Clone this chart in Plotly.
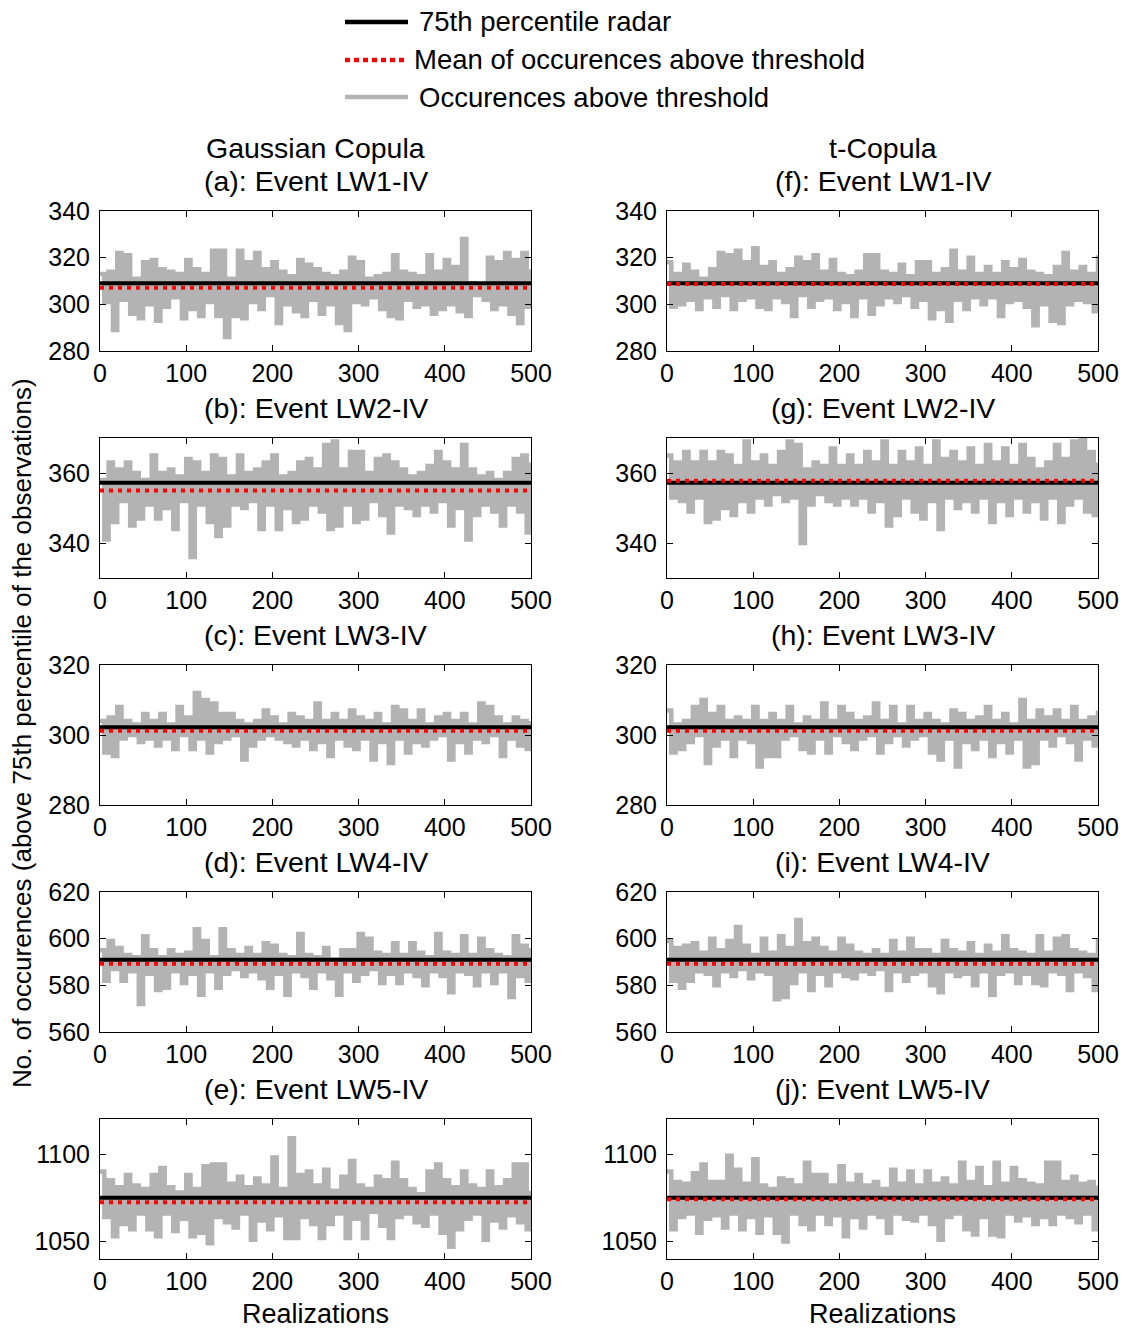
import plotly.graph_objects as go

# ---------------- DATA ----------------
# Realization index of the series values (every 5th realization is read from the picture)
realizations = list(range(0, 501, 5))

# Gaussian copula: values at realizations 0,10,...,500 (high side) and 5,15,...,495 (low side)
gauss_LW1_hi = [313, 314, 322, 321, 311, 318, 319, 315, 314, 313, 319, 315, 313, 323, 323, 311, 323, 318, 322, 315,
                318, 314, 312, 319, 317, 315, 313, 312, 314, 320, 318, 311, 312, 313, 321, 314, 313, 312, 321, 314,
                319, 316, 328, 309, 308, 320, 318, 322, 319, 322, 315]
gauss_LW1_lo = [301, 289, 302, 296, 294, 300, 293, 299, 303, 294, 298, 295, 301, 295, 286, 295, 294, 301, 298, 304,
                292, 300, 297, 295, 302, 296, 300, 292, 289, 301, 300, 303, 298, 295, 294, 302, 299, 300, 296, 298,
                300, 297, 295, 304, 302, 298, 300, 296, 292, 299]
gauss_LW2_hi = [358, 363, 361, 363, 360, 358, 365, 360, 361, 359, 364, 363, 360, 365, 364, 359, 365, 360, 361, 363,
                365, 359, 360, 363, 364, 361, 368, 369, 361, 366, 366, 360, 364, 365, 363, 361, 359, 360, 362, 366,
                363, 361, 368, 361, 359, 360, 358, 360, 364, 365, 363]
gauss_LW2_lo = [341, 346, 352, 345, 347, 351, 347, 350, 344, 352, 336, 351, 346, 342, 345, 351, 350, 352, 344, 351,
                344, 350, 346, 347, 351, 349, 344, 345, 351, 346, 347, 352, 348, 343, 351, 350, 348, 351, 349, 352,
                345, 350, 341, 348, 351, 349, 345, 351, 349, 343]
gauss_LW3_hi = [304, 305, 308, 304, 303, 306, 304, 306, 303, 308, 305, 312, 310, 309, 306, 306, 304, 303, 304, 307,
                305, 303, 306, 305, 304, 309, 304, 306, 304, 307, 305, 304, 306, 303, 308, 307, 304, 307, 303, 305,
                306, 304, 306, 303, 309, 308, 305, 303, 305, 304, 304]
gauss_LW3_lo = [295, 294, 299, 300, 298, 299, 297, 299, 296, 300, 296, 299, 295, 298, 299, 300, 293, 297, 299, 300,
                299, 298, 297, 299, 296, 298, 294, 299, 297, 296, 299, 293, 298, 292, 299, 295, 298, 297, 299, 300,
                293, 298, 295, 299, 298, 300, 294, 299, 297, 296]
gauss_LW4_hi = [595, 599, 596, 593, 592, 601, 595, 592, 595, 593, 594, 604, 599, 592, 604, 595, 593, 596, 593, 598,
                597, 593, 592, 602, 593, 592, 596, 591, 595, 595, 602, 600, 594, 593, 598, 593, 598, 594, 592, 602,
                594, 593, 601, 593, 600, 595, 593, 592, 601, 597, 596]
gauss_LW4_lo = [582, 587, 582, 586, 572, 585, 578, 579, 586, 581, 585, 576, 586, 579, 585, 587, 584, 586, 583, 579,
                585, 576, 586, 584, 579, 586, 583, 576, 586, 582, 585, 587, 581, 585, 581, 586, 584, 580, 586, 584,
                577, 586, 585, 580, 586, 581, 586, 575, 584, 582]
gauss_LW5_hi = [1090, 1085, 1081, 1088, 1082, 1080, 1088, 1092, 1081, 1078, 1088, 1080, 1093, 1094, 1094, 1083, 1087,
                1081, 1086, 1082, 1098, 1080, 1109, 1088, 1090, 1082, 1091, 1079, 1087, 1096, 1082, 1080, 1087, 1085,
                1095, 1085, 1080, 1077, 1090, 1094, 1085, 1081, 1090, 1082, 1080, 1090, 1081, 1085, 1094, 1094, 1079]
gauss_LW5_lo = [1064, 1053, 1060, 1057, 1066, 1057, 1053, 1066, 1056, 1063, 1053, 1055, 1049, 1064, 1061, 1058, 1066,
                1051, 1062, 1057, 1065, 1052, 1052, 1064, 1060, 1052, 1060, 1066, 1052, 1063, 1052, 1067, 1059, 1052,
                1064, 1066, 1061, 1059, 1066, 1055, 1047, 1057, 1063, 1066, 1051, 1062, 1058, 1065, 1061, 1057]

# t-copula
t_LW1_hi = [318, 313, 317, 314, 311, 315, 322, 321, 323, 318, 324, 316, 318, 313, 315, 320, 318, 321, 314, 319,
            313, 312, 314, 321, 321, 314, 313, 317, 312, 318, 318, 313, 315, 323, 314, 320, 313, 316, 313, 318,
            315, 319, 314, 313, 312, 316, 322, 314, 316, 313, 321]
t_LW1_lo = [299, 300, 302, 298, 303, 299, 304, 298, 302, 303, 299, 298, 303, 301, 295, 304, 299, 302, 303, 298,
            301, 295, 303, 296, 300, 303, 301, 304, 299, 302, 294, 298, 293, 302, 298, 303, 300, 303, 295, 301,
            302, 299, 291, 300, 293, 292, 300, 302, 301, 297]
t_LW2_hi = [365, 363, 366, 363, 366, 363, 366, 365, 362, 369, 363, 365, 362, 366, 369, 368, 361, 363, 362, 367,
            362, 365, 362, 366, 363, 369, 362, 366, 363, 367, 362, 369, 364, 366, 363, 367, 362, 368, 363, 367,
            362, 368, 364, 361, 363, 368, 364, 369, 370, 366, 363]
t_LW2_lo = [353, 352, 349, 353, 346, 347, 350, 348, 352, 349, 353, 351, 354, 352, 353, 340, 351, 354, 352, 351,
            353, 351, 353, 349, 352, 345, 348, 353, 349, 347, 352, 344, 353, 350, 352, 349, 353, 346, 352, 348,
            353, 349, 352, 347, 353, 346, 351, 353, 349, 348]
t_LW3_hi = [307, 303, 304, 308, 310, 306, 308, 304, 305, 304, 308, 304, 306, 304, 308, 303, 305, 304, 309, 304,
            308, 306, 304, 305, 309, 304, 308, 303, 308, 304, 306, 304, 303, 307, 306, 304, 305, 308, 304, 306,
            303, 310, 304, 307, 305, 307, 304, 308, 304, 305, 307]
t_LW3_lo = [295, 296, 298, 300, 292, 297, 299, 294, 299, 298, 291, 294, 294, 299, 300, 296, 295, 299, 295, 300,
            298, 296, 299, 300, 295, 298, 300, 297, 299, 300, 295, 293, 299, 291, 298, 296, 299, 294, 298, 295,
            299, 291, 292, 299, 297, 300, 298, 293, 299, 297]
t_LW4_hi = [599, 596, 597, 598, 594, 600, 595, 599, 605, 597, 593, 600, 594, 601, 596, 608, 598, 600, 596, 594,
            600, 597, 594, 593, 595, 593, 599, 594, 600, 595, 595, 593, 599, 595, 594, 598, 593, 597, 594, 601,
            595, 594, 593, 601, 594, 600, 601, 595, 594, 593, 600]
t_LW4_lo = [582, 579, 582, 586, 585, 580, 586, 584, 587, 583, 586, 585, 574, 575, 581, 586, 578, 585, 580, 586,
            584, 583, 586, 585, 587, 578, 586, 582, 585, 586, 580, 577, 586, 584, 585, 580, 586, 576, 585, 586,
            581, 585, 581, 580, 586, 585, 578, 586, 584, 578]
t_LW5_hi = [1090, 1084, 1083, 1089, 1094, 1084, 1084, 1099, 1091, 1083, 1097, 1082, 1080, 1086, 1085, 1082, 1095,
            1088, 1088, 1082, 1093, 1083, 1088, 1082, 1084, 1080, 1091, 1083, 1090, 1082, 1090, 1083, 1086, 1082,
            1095, 1084, 1092, 1081, 1095, 1083, 1092, 1085, 1083, 1082, 1095, 1095, 1084, 1087, 1083, 1084, 1082]
t_LW5_lo = [1057, 1064, 1066, 1055, 1063, 1065, 1058, 1066, 1057, 1064, 1055, 1065, 1055, 1050, 1066, 1060, 1057,
            1066, 1060, 1065, 1053, 1064, 1058, 1066, 1064, 1055, 1066, 1063, 1062, 1066, 1060, 1051, 1064, 1066,
            1057, 1054, 1064, 1054, 1053, 1066, 1062, 1065, 1060, 1064, 1060, 1066, 1064, 1061, 1066, 1057]

# Horizontal reference levels per event (LW1..LW5)
radar_p75 = [309.0, 357.2, 302.2, 591.0, 1075.0]
mean_gauss = [307.1, 355.0, 301.2, 589.3, 1072.4]
mean_t = [308.7, 357.8, 301.2, 589.3, 1074.1]

events = ["LW1-IV", "LW2-IV", "LW3-IV", "LW4-IV", "LW5-IV"]
letters_gauss = ["a", "b", "c", "d", "e"]
letters_t = ["f", "g", "h", "i", "j"]
y_ranges = [[280, 340], [330, 370], [280, 320], [560, 620], [1040, 1120]]
y_ticks = [[280, 300, 320, 340], [340, 360], [280, 300, 320], [560, 580, 600, 620], [1050, 1100]]
x_ticks = [0, 100, 200, 300, 400, 500]

gauss_hi = [gauss_LW1_hi, gauss_LW2_hi, gauss_LW3_hi, gauss_LW4_hi, gauss_LW5_hi]
gauss_lo = [gauss_LW1_lo, gauss_LW2_lo, gauss_LW3_lo, gauss_LW4_lo, gauss_LW5_lo]
t_hi = [t_LW1_hi, t_LW2_hi, t_LW3_hi, t_LW4_hi, t_LW5_hi]
t_lo = [t_LW1_lo, t_LW2_lo, t_LW3_lo, t_LW4_lo, t_LW5_lo]


def series(hi, lo):
    out = []
    for k in range(len(lo)):
        out.append(hi[k])
        out.append(lo[k])
    out.append(hi[-1])
    return out


# ---------------- LAYOUT ----------------
W, H = 1125, 1329
FONT = "Liberation Sans, Arial, sans-serif"
col_px = [(100, 531), (667, 1098)]
row_top_px = [211, 438, 665, 892, 1119]
panel_h = 140

fig = go.Figure()
layout = dict(width=W, height=H, autosize=False, template="none",
              margin=dict(l=0, r=0, t=0, b=0, pad=0), paper_bgcolor="white",
              plot_bgcolor="white", showlegend=False, font=dict(family=FONT, color="black"))
annotations = []
shapes = []

GRAY = "#b3b3b3"
n = 0
for c in range(2):
    his = gauss_hi if c == 0 else t_hi
    los = gauss_lo if c == 0 else t_lo
    means = mean_gauss if c == 0 else mean_t
    letters = letters_gauss if c == 0 else letters_t
    for r in range(5):
        n += 1
        xa = "x" if n == 1 else f"x{n}"
        ya = "y" if n == 1 else f"y{n}"
        xk = "xaxis" if n == 1 else f"xaxis{n}"
        yk = "yaxis" if n == 1 else f"yaxis{n}"
        x0, x1 = col_px[c]
        top = row_top_px[r]
        bot = top + panel_h
        layout[xk] = dict(domain=[x0 / W, x1 / W], anchor=ya, range=[0, 500], tickvals=x_ticks,
                          ticks="inside", ticklen=6, tickcolor="black", tickwidth=1, automargin=False,
                          showline=True, linecolor="black", linewidth=1, mirror="ticks",
                          showgrid=False, zeroline=False, tickfont=dict(size=25, family=FONT, color="black"),
                          ticklabelstandoff=0)
        layout[yk] = dict(domain=[1 - bot / H, 1 - top / H], anchor=xa, range=y_ranges[r], tickvals=y_ticks[r],
                          ticks="inside", ticklen=6, tickcolor="black", tickwidth=1, automargin=False,
                          showline=True, linecolor="black", linewidth=1, mirror="ticks",
                          showgrid=False, zeroline=False, tickfont=dict(size=25, family=FONT, color="black"),
                          ticklabelstandoff=4)
        fig.add_trace(go.Scatter(x=realizations, y=series(his[r], los[r]), mode="lines",
                                 line=dict(color=GRAY, width=4.5, shape="hv"), xaxis=xa, yaxis=ya,
                                 name="Occurences above threshold", hoverinfo="skip"))
        fig.add_trace(go.Scatter(x=[0, 500], y=[radar_p75[r], radar_p75[r]], mode="lines",
                                 line=dict(color="black", width=4), xaxis=xa, yaxis=ya,
                                 name="75th percentile radar"))
        fig.add_trace(go.Scatter(x=[0, 500], y=[means[r], means[r]], mode="lines",
                                 line=dict(color="#ff0000", width=4, dash="4px,5px"), xaxis=xa, yaxis=ya,
                                 name="Mean of occurences above threshold"))
        annotations.append(dict(text=f"({letters[r]}): Event {events[r]}", xref="paper", yref="paper",
                                x=(x0 + x1) / 2 / W, y=1 - (top - 30) / H, xanchor="center", yanchor="middle",
                                showarrow=False, font=dict(size=28.5, family=FONT, color="black")))
    x0, x1 = col_px[c]
    annotations.append(dict(text="Gaussian Copula" if c == 0 else "t-Copula", xref="paper", yref="paper",
                            x=(x0 + x1) / 2 / W, y=1 - 148 / H, xanchor="center", yanchor="middle",
                            showarrow=False, font=dict(size=28.5, family=FONT, color="black")))
    annotations.append(dict(text="Realizations", xref="paper", yref="paper",
                            x=(x0 + x1) / 2 / W, y=1 - 1314 / H, xanchor="center", yanchor="middle",
                            showarrow=False, font=dict(size=27, family=FONT, color="black")))

annotations.append(dict(text="No. of occurences (above 75th percentile of the observations)", xref="paper",
                        yref="paper", x=22 / W, y=1 - 733 / H, xanchor="center", yanchor="middle",
                        textangle=-90, showarrow=False, font=dict(size=26, family=FONT, color="black")))

# manual legend at the top
legend_items = [("75th percentile radar", "black", "solid", 22, 417),
                ("Mean of occurences above threshold", "#ff0000", "5px,4px", 60, 412),
                ("Occurences above threshold", GRAY, "solid", 97, 417)]
for label, color, dash, py, tx in legend_items:
    shapes.append(dict(type="line", xref="paper", yref="paper", x0=345 / W, x1=408 / W,
                       y0=1 - py / H, y1=1 - py / H, line=dict(color=color, width=4.5, dash=dash)))
    annotations.append(dict(text=label, xref="paper", yref="paper", x=tx / W, y=1 - py / H,
                            xanchor="left", yanchor="middle", showarrow=False,
                            font=dict(size=27.5, family=FONT, color="black")))

layout["annotations"] = annotations
layout["shapes"] = shapes
fig.update_layout(**layout)
fig.write_html("out.html")
